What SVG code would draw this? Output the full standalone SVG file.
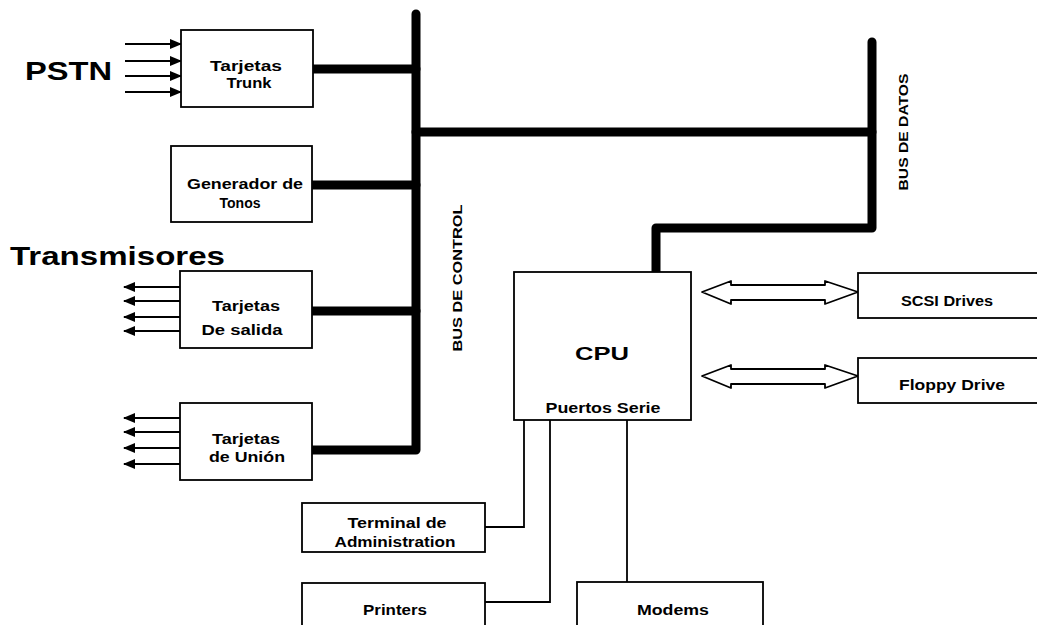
<svg xmlns="http://www.w3.org/2000/svg" width="1037" height="625" viewBox="0 0 1037 625">
<defs>
<style>
.box{fill:#fff;stroke:#000;stroke-width:1.8}
.bus{fill:none;stroke:#000;stroke-width:9;stroke-linecap:round;stroke-linejoin:round}
.thin{fill:none;stroke:#000;stroke-width:1.8}
.arr{fill:none;stroke:#000;stroke-width:2}
.lbl{font-family:"Liberation Sans",Arial,sans-serif;font-weight:bold;font-size:14px;fill:#000;text-anchor:middle}
.big{font-family:"Liberation Sans",Arial,sans-serif;font-weight:bold;fill:#000}
.dbl{fill:#fff;stroke:#000;stroke-width:1.8;stroke-linejoin:round}
</style>
<marker id="ah" markerWidth="12" markerHeight="10" refX="11" refY="5" orient="auto" markerUnits="userSpaceOnUse">
<path d="M0,0 L12,5 L0,10 Z" fill="#000"/>
</marker>
</defs>
<rect width="1037" height="625" fill="#fff"/>

<text class="big" x="25" y="80" font-size="25" textLength="87" lengthAdjust="spacingAndGlyphs">PSTN</text>
<text class="big" x="10" y="265" font-size="26" textLength="215" lengthAdjust="spacingAndGlyphs">Transmisores</text>

<g id="connectors">
<path class="bus" d="M416,14 V450 H312"/>
<path class="bus" d="M312,69 H416"/>
<path class="bus" d="M312,185 H416"/>
<path class="bus" d="M312,311 H416"/>
<path class="bus" d="M416,132 H872"/>
<path class="bus" d="M872,42 V228 H656 V272"/>
<g class="arr">
<line x1="125" y1="44" x2="181" y2="44" marker-end="url(#ah)"/>
<line x1="125" y1="61" x2="181" y2="61" marker-end="url(#ah)"/>
<line x1="125" y1="76" x2="181" y2="76" marker-end="url(#ah)"/>
<line x1="125" y1="92" x2="181" y2="92" marker-end="url(#ah)"/>
<line x1="180" y1="287" x2="124" y2="287" marker-end="url(#ah)"/>
<line x1="180" y1="301" x2="124" y2="301" marker-end="url(#ah)"/>
<line x1="180" y1="317" x2="124" y2="317" marker-end="url(#ah)"/>
<line x1="180" y1="331" x2="124" y2="331" marker-end="url(#ah)"/>
<line x1="180" y1="418" x2="124" y2="418" marker-end="url(#ah)"/>
<line x1="180" y1="432" x2="124" y2="432" marker-end="url(#ah)"/>
<line x1="180" y1="448" x2="124" y2="448" marker-end="url(#ah)"/>
<line x1="180" y1="464" x2="124" y2="464" marker-end="url(#ah)"/>
</g>
<path class="dbl" d="M702,292 L731,281 V285 H825 V281 L858,292 L825,304 V300 H731 V304 Z"/>
<path class="dbl" d="M702,376 L731,365 V369 H825 V365 L858,376 L825,388 V384 H731 V388 Z"/>
<path class="thin" d="M524,420 V527 H485"/>
<path class="thin" d="M550,420 V602 H485"/>
<path class="thin" d="M627,420 V582"/>
</g>

<text class="big" font-size="13" transform="translate(462,278) rotate(-90)" text-anchor="middle" textLength="147" lengthAdjust="spacingAndGlyphs">BUS DE CONTROL</text>
<text class="big" font-size="13" transform="translate(908,132) rotate(-90)" text-anchor="middle" textLength="117" lengthAdjust="spacingAndGlyphs">BUS DE DATOS</text>

<g id="trunk">
<rect class="box" x="181" y="30" width="132" height="77"/>
<text class="lbl" x="246" y="71" textLength="72" lengthAdjust="spacingAndGlyphs">Tarjetas</text>
<text class="lbl" x="249" y="88" textLength="45" lengthAdjust="spacingAndGlyphs">Trunk</text>
</g>
<g id="generador">
<rect class="box" x="171" y="146" width="141" height="76"/>
<text class="lbl" x="245" y="189" textLength="116" lengthAdjust="spacingAndGlyphs">Generador de</text>
<text class="lbl" x="240" y="208" textLength="41" lengthAdjust="spacingAndGlyphs">Tonos</text>
</g>
<g id="salida">
<rect class="box" x="180" y="271" width="132" height="77"/>
<text class="lbl" x="246" y="311" textLength="68" lengthAdjust="spacingAndGlyphs">Tarjetas</text>
<text class="lbl" x="242" y="335" textLength="81" lengthAdjust="spacingAndGlyphs">De salida</text>
</g>
<g id="union">
<rect class="box" x="180" y="403" width="132" height="77"/>
<text class="lbl" x="246" y="444" textLength="68" lengthAdjust="spacingAndGlyphs">Tarjetas</text>
<text class="lbl" x="247" y="462" textLength="76" lengthAdjust="spacingAndGlyphs">de Unión</text>
</g>
<g id="cpu">
<rect class="box" x="514" y="272" width="177" height="148"/>
<text class="big" x="602" y="360" font-size="19" text-anchor="middle" textLength="54" lengthAdjust="spacingAndGlyphs">CPU</text>
<text class="lbl" x="603" y="413" textLength="115" lengthAdjust="spacingAndGlyphs">Puertos Serie</text>
</g>
<g id="scsi">
<rect class="box" x="858" y="273" width="190" height="45"/>
<text class="lbl" x="947" y="306" textLength="92" lengthAdjust="spacingAndGlyphs">SCSI Drives</text>
</g>
<g id="floppy">
<rect class="box" x="858" y="358" width="190" height="45"/>
<text class="lbl" x="952" y="390" textLength="106" lengthAdjust="spacingAndGlyphs">Floppy Drive</text>
</g>
<g id="terminal">
<rect class="box" x="302" y="503" width="183" height="49"/>
<text class="lbl" x="397" y="528" textLength="99" lengthAdjust="spacingAndGlyphs">Terminal de</text>
<text class="lbl" x="395" y="547" textLength="121" lengthAdjust="spacingAndGlyphs">Administration</text>
</g>
<g id="printers">
<rect class="box" x="302" y="583" width="183" height="60"/>
<text class="lbl" x="395" y="615" textLength="64" lengthAdjust="spacingAndGlyphs">Printers</text>
</g>
<g id="modems">
<rect class="box" x="577" y="582" width="186" height="60"/>
<text class="lbl" x="673" y="615" textLength="72" lengthAdjust="spacingAndGlyphs">Modems</text>
</g>
</svg>
